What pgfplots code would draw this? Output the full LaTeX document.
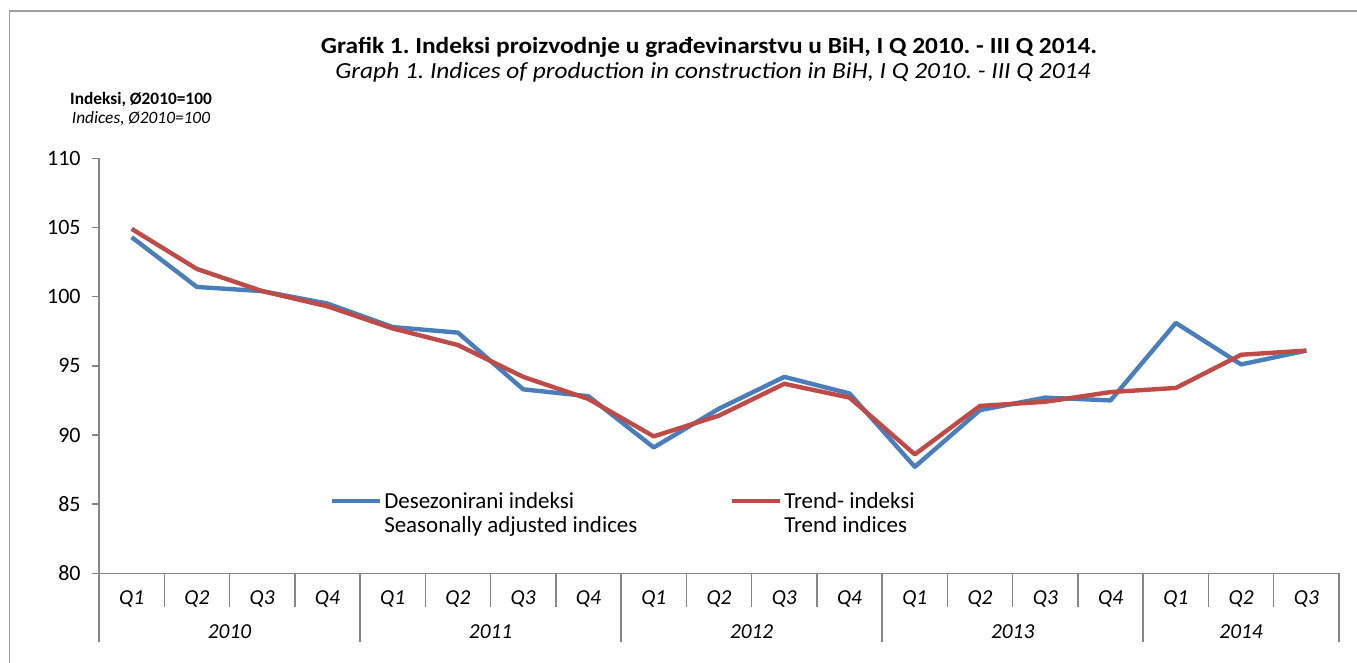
\documentclass[border=0pt]{standalone}
\usepackage{fontspec}
\setmainfont{Carlito}
\newfontfamily\titlefont{Carlito}[FakeStretch=1.1]
\usepackage{pgfplots}
\pgfplotsset{compat=1.18}
\definecolor{sablue}{HTML}{4A7EBB}
\definecolor{trred}{HTML}{BE4B48}
\definecolor{axgray}{HTML}{868686}
\definecolor{framegray}{HTML}{A0A0A0}
\frenchspacing
\begin{document}
\begin{tikzpicture}
\useasboundingbox (0,0) rectangle (1017.75pt,-497.25pt);
\begin{scope}[x=0.75pt,y=-0.75pt]
\draw[framegray, line width=1.2pt] (9.5,700) -- (9.5,11) -- (1400,11);
\node[font=\titlefont\fontsize{17.3}{20}\selectfont\bfseries] at (709,47) {Grafik 1. Indeksi proizvodnje u građevinarstvu u BiH, I Q 2010. - III Q 2014.};
\node[font=\titlefont\fontsize{17.3}{20}\selectfont\itshape] at (713,72) {Graph 1. Indices of production in construction in BiH, I Q 2010. - III Q 2014};
\node[font=\fontsize{13}{15}\selectfont\bfseries] at (141,100) {Indeksi, Ø2010=100};
\node[font=\fontsize{13}{15}\selectfont\itshape] at (141,119) {Indices, Ø2010=100};
% legend
\draw[sablue, line width=3.3pt] (332,501) -- (380,501);
\node[anchor=base west, inner sep=0pt, font=\fontsize{17.2}{19}\selectfont] at (384,508) {Desezonirani indeksi};
\node[anchor=base west, inner sep=0pt, font=\fontsize{17.2}{19}\selectfont] at (384,532) {Seasonally adjusted indices};
\draw[trred, line width=3.3pt] (732,501) -- (780,501);
\node[anchor=base west, inner sep=0pt, font=\fontsize{17.2}{19}\selectfont] at (784,508) {Trend- indeksi};
\node[anchor=base west, inner sep=0pt, font=\fontsize{17.2}{19}\selectfont] at (784,532) {Trend indices};
\end{scope}
\begin{axis}[
  at={(74.25pt,-429.98pt)}, anchor=south west,
  scale only axis, width=930pt, height=311.25pt,
  xmin=-0.5, xmax=18.5, ymin=80, ymax=110,
  axis x line=bottom, axis y line=left,
  axis line style={-, draw=axgray, line width=1.1pt},
  ytick={80,85,...,110},
  yticklabel style={font=\fontsize{16.5}{19}\selectfont, xshift=-5pt},
  tick align=outside, major tick length=5.25pt,
  tick style={draw=axgray, line width=1.1pt},
  xtick={0,...,18},
  xticklabels={Q1,Q2,Q3,Q4,Q1,Q2,Q3,Q4,Q1,Q2,Q3,Q4,Q1,Q2,Q3,Q4,Q1,Q2,Q3},
  xtick style={draw=none},
  xticklabel style={font=\fontsize{16}{19}\selectfont\itshape, anchor=center, yshift=-14.2pt},
  /pgf/number format/assume math mode=true,
  clip=false,
]
\addplot[sablue, line width=3.3pt, line join=round] coordinates {
(0,104.3) (1,100.7) (2,100.4) (3,99.5) (4,97.8) (5,97.4) (6,93.3) (7,92.8) (8,89.1) (9,91.9)
(10,94.2) (11,93.0) (12,87.7) (13,91.8) (14,92.7) (15,92.5) (16,98.1) (17,95.1) (18,96.1)};
\addplot[trred, line width=3.3pt, line join=round] coordinates {
(0,104.9) (1,102.0) (2,100.4) (3,99.3) (4,97.7) (5,96.5) (6,94.2) (7,92.6) (8,89.9) (9,91.4)
(10,93.7) (11,92.7) (12,88.6) (13,92.1) (14,92.4) (15,93.1) (16,93.4) (17,95.8) (18,96.1)};
\pgfplotsinvokeforeach{0.5,1.5,2.5,4.5,5.5,6.5,8.5,9.5,10.5,12.5,13.5,14.5,16.5,17.5}{
  \draw[axgray, line width=1.1pt] (axis cs:#1,80) -- ++(0pt,-25.5pt);
}
\pgfplotsinvokeforeach{-0.5,3.5,7.5,11.5,15.5,18.5}{
  \draw[axgray, line width=1.1pt] (axis cs:#1,80) -- ++(0pt,-51.3pt);
}
\node[yshift=-43.8pt, font=\fontsize{16}{19}\selectfont\itshape] at (axis cs:1.5,80) {2010};
\node[yshift=-43.8pt, font=\fontsize{16}{19}\selectfont\itshape] at (axis cs:5.5,80) {2011};
\node[yshift=-43.8pt, font=\fontsize{16}{19}\selectfont\itshape] at (axis cs:9.5,80) {2012};
\node[yshift=-43.8pt, font=\fontsize{16}{19}\selectfont\itshape] at (axis cs:13.5,80) {2013};
\node[yshift=-43.8pt, font=\fontsize{16}{19}\selectfont\itshape] at (axis cs:17,80) {2014};
\end{axis}
\end{tikzpicture}
\end{document}
